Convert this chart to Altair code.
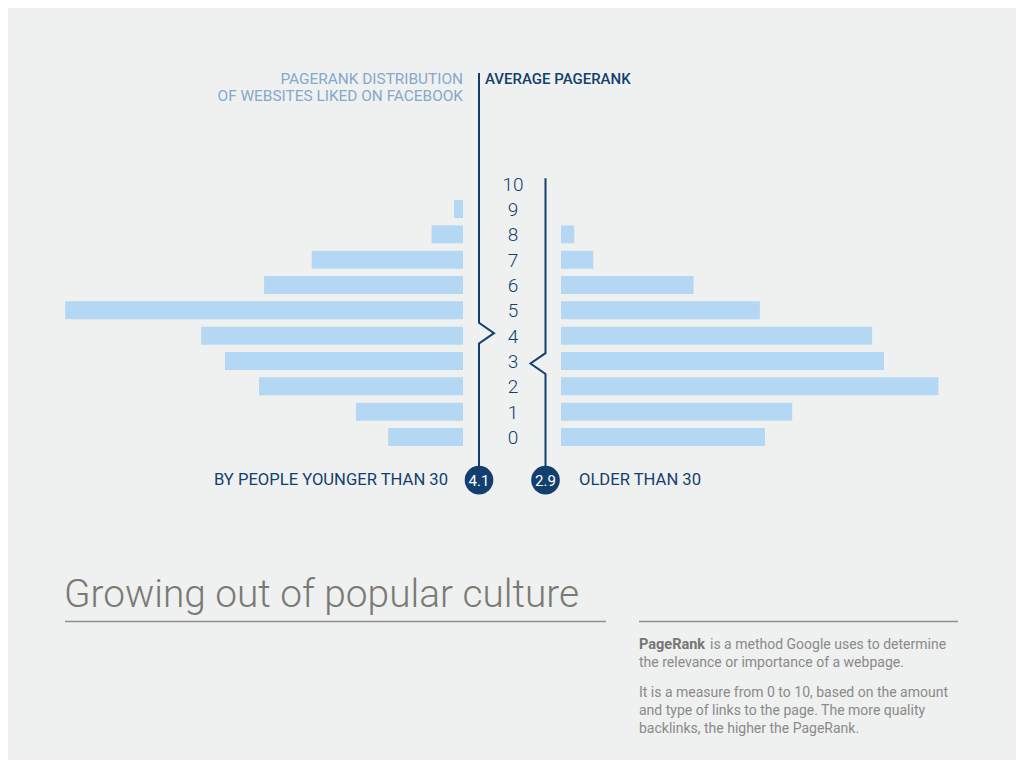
import altair as alt
import pandas as pd

# ---------------- data ----------------
RANKS = [0, 1, 2, 3, 4, 5, 6, 7, 8, 9, 10]
# share of liked websites per PageRank
YOUNGER = [4.4, 6.3, 12.0, 14.0, 15.4, 23.4, 11.7, 8.9, 1.85, 0.53, 0.0]
OLDER = [12.0, 13.6, 22.2, 19.0, 18.3, 11.7, 7.8, 1.9, 0.78, 0.0, 0.0]
AVG_YOUNGER = 4.1
AVG_OLDER = 2.9

TITLE = "Growing out of popular culture"
HEAD_LEFT = ["PAGERANK DISTRIBUTION", "OF WEBSITES LIKED ON FACEBOOK"]
HEAD_RIGHT = "AVERAGE PAGERANK"
LABEL_YOUNG = "BY PEOPLE YOUNGER THAN 30"
LABEL_OLD = "OLDER THAN 30"
PARA_BOLD = "PageRank"
PARA_LINES = [
    "is a method Google uses to determine",
    "the relevance or importance of a webpage.",
    "It is a measure from 0 to 10, based on the amount",
    "and type of links to the page. The more quality",
    "backlinks, the higher the PageRank.",
]

# ---------------- styling / layout ----------------
W, H = 1008, 752
BG = "#eff0f0"
BAR = "#b4d8f3"
DARK = "#123f6e"
LIGHT = "#84a9cb"
GREY = "#7a7a74"
PGREY = "#8a8a88"
FONT = "Roboto"

PX = 17.0                      # px per value unit
XH = (W / 2) / PX              # half domain
GAP = 49 / PX                  # gap between centre and bars
LINE_L = -33 / PX              # left average line
LINE_R = 33.5 / PX             # right average line
NOTCH = 15 / PX
NOTCH_H = 0.41
ROW = 25.33                    # px per rank
Y0 = 429                       # plot-y of rank 0
Y_TOP = Y0 / ROW
Y_BOT = (Y0 - H) / ROW
BAR_H = 0.355
CIRCLE_R = -1.7

xs = alt.Scale(domain=[-XH, XH], nice=False, zero=False)
ys = alt.Scale(domain=[Y_BOT, Y_TOP], nice=False, zero=False)

rows = []
for r, yv, ov in zip(RANKS, YOUNGER, OLDER):
    rows.append({"rank": r, "side": "young", "x": -(GAP + yv), "x2": -GAP,
                 "y": r - BAR_H, "y2": r + BAR_H})
    rows.append({"rank": r, "side": "old", "x": GAP, "x2": GAP + ov,
                 "y": r - BAR_H, "y2": r + BAR_H})
bars_df = pd.DataFrame(rows)

bars = alt.Chart(bars_df).mark_rect(color=BAR).encode(
    x=alt.X("x:Q", scale=xs, axis=None),
    x2="x2:Q",
    y=alt.Y("y:Q", scale=ys, axis=None),
    y2="y2:Q",
)

nums = alt.Chart(pd.DataFrame({"rank": RANKS, "cx": [0.06] * len(RANKS)})).mark_text(
    font=FONT, fontSize=19, fontWeight=300, color=DARK, baseline="middle", dy=1
).encode(
    x=alt.X("cx:Q", scale=xs, axis=None),
    y=alt.Y("rank:Q", scale=ys, axis=None),
    text="rank:N",
)

# average lines with notch
pts = []
for side, lx, avg, top, d in [("young", LINE_L, AVG_YOUNGER, 14.37, 1),
                              ("old", LINE_R, AVG_OLDER, 10.22, -1)]:
    seq = [(lx, top), (lx, avg + NOTCH_H), (lx + d * NOTCH, avg),
           (lx, avg - NOTCH_H), (lx, CIRCLE_R)]
    for i, (px_, py_) in enumerate(seq):
        pts.append({"side": side, "i": i, "x": px_, "y": py_})
lines = alt.Chart(pd.DataFrame(pts)).mark_line(color=DARK, strokeWidth=2).encode(
    x=alt.X("x:Q", scale=xs, axis=None),
    y=alt.Y("y:Q", scale=ys, axis=None),
    detail="side:N",
    order="i:Q",
)

circ_df = pd.DataFrame({"x": [LINE_L, LINE_R], "y": [CIRCLE_R, CIRCLE_R],
                        "label": [f"{AVG_YOUNGER}", f"{AVG_OLDER}"]})
circles = alt.Chart(circ_df).mark_circle(color=DARK, opacity=1, size=820).encode(
    x=alt.X("x:Q", scale=xs, axis=None),
    y=alt.Y("y:Q", scale=ys, axis=None),
)
circ_txt = alt.Chart(circ_df).mark_text(
    font=FONT, fontSize=15, color="white", baseline="middle", dy=1
).encode(
    x=alt.X("x:Q", scale=xs, axis=None),
    y=alt.Y("y:Q", scale=ys, axis=None),
    text="label:N",
)


def txt(s, x, y, **kw):
    return alt.Chart(pd.DataFrame({"t": [s]})).mark_text(
        font=FONT, baseline="alphabetic", **kw
    ).encode(text="t:N", x=alt.value(x), y=alt.value(y))


def rule(x1, x2, y, **kw):
    return alt.Chart(pd.DataFrame({"a": [0]})).mark_rule(**kw).encode(
        x=alt.value(x1), x2=alt.value(x2), y=alt.value(y))


texts = [
    txt(HEAD_LEFT[0], 455, 76, fontSize=15.4, color=LIGHT, align="right"),
    txt(HEAD_LEFT[1], 455, 93, fontSize=15.4, color=LIGHT, align="right"),
    txt(HEAD_RIGHT, 477, 76, fontSize=15, color=DARK, align="left", fontWeight=500),
    txt(LABEL_YOUNG, 440, 476.5, fontSize=16.6, color=DARK, align="right"),
    txt(LABEL_OLD, 571, 476.5, fontSize=16.6, color=DARK, align="left"),
    txt(TITLE, 56, 599, fontSize=38.8, fontWeight=300, color=GREY, align="left"),
    txt(PARA_BOLD, 631, 641, fontSize=14.5, fontWeight=700, color="#767674", align="left"),
    txt(PARA_LINES[0], 702, 641, fontSize=14, color=PGREY, align="left"),
    txt(PARA_LINES[1], 631, 659, fontSize=14, color=PGREY, align="left"),
    txt(PARA_LINES[2], 631, 689, fontSize=14, color=PGREY, align="left"),
    txt(PARA_LINES[3], 631, 707, fontSize=14, color=PGREY, align="left"),
    txt(PARA_LINES[4], 631, 725, fontSize=14, color=PGREY, align="left"),
    rule(57, 598, 613.5, color="#8e8e8c", strokeWidth=1.5),
    rule(631, 950, 613.5, color="#8e8e8c", strokeWidth=1.5),
]

chart = alt.layer(bars, lines, circles, circ_txt, nums, *texts).properties(
    width=W, height=H, padding=0,
    autosize=alt.AutoSizeParams(type="fit", contains="padding"),
    background=BG,
).configure_view(stroke=None)

chart.save("out.html", embed_options={"renderer": "svg", "actions": False})
